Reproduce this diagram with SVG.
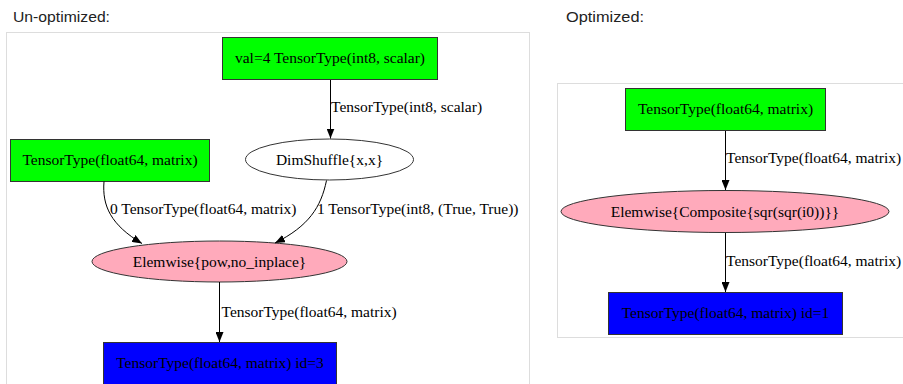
<svg xmlns="http://www.w3.org/2000/svg" width="903" height="384" viewBox="0 0 903 384">
  <defs>
    <marker id="arrow" viewBox="0 0 10 8" refX="10" refY="4" markerWidth="10" markerHeight="8" markerUnits="userSpaceOnUse" orient="auto">
      <path d="M0,0 L10,4 L0,8 Z" fill="#000"/>
    </marker>
    <style>
      .title { font-family: "Liberation Sans", Arial, sans-serif; font-size: 14px; fill: #222; }
      .panel { fill: #fff; stroke: #dddddd; stroke-width: 1; }
      .node { stroke: #333; stroke-width: 1; }
      .input { fill: #00ff00; }
      .output { fill: #0000ff; }
      .apply { fill: #ffaabb; }
      .plain { fill: #fff; }
      .lbl { font-family: "Liberation Serif", "Times New Roman", serif; font-size: 15.5px; fill: #000; }
      .mid { text-anchor: middle; }
      .edge { fill: none; stroke: #000; stroke-width: 1; marker-end: url(#arrow); }
    </style>
  </defs>

  <rect width="903" height="384" fill="#fff"/>

  <!-- headings -->
  <text class="title" x="13" y="22" textLength="97" lengthAdjust="spacingAndGlyphs">Un-optimized:</text>
  <text class="title" x="566" y="22" textLength="78" lengthAdjust="spacingAndGlyphs">Optimized:</text>

  <!-- panel frames -->
  <rect class="panel" x="6.5" y="32.5" width="523" height="360"/>
  <rect class="panel" x="557.5" y="83.5" width="360" height="254"/>

  <!-- un-optimized graph -->
  <g id="const-val4">
    <rect class="node input" x="222.5" y="37.5" width="215" height="42"/>
    <text class="lbl mid" x="330" y="63">val=4 TensorType(int8, scalar)</text>
  </g>
  <g id="input-matrix">
    <rect class="node input" x="10.5" y="139.5" width="199" height="42"/>
    <text class="lbl mid" x="110" y="165">TensorType(float64, matrix)</text>
  </g>
  <g id="dimshuffle">
    <ellipse class="node plain" cx="329.5" cy="159.5" rx="84" ry="20.5"/>
    <text class="lbl mid" x="329.5" y="164.5">DimShuffle{x,x}</text>
  </g>
  <g id="elemwise-pow">
    <ellipse class="node apply" cx="219.5" cy="261.5" rx="127.5" ry="20.5"/>
    <text class="lbl mid" x="219.5" y="266.5">Elemwise{pow,no_inplace}</text>
  </g>
  <g id="output-3">
    <rect class="node output" x="103.5" y="342.5" width="233" height="50"/>
    <text class="lbl mid" x="220" y="367.5">TensorType(float64, matrix) id=3</text>
  </g>

  <!-- optimized graph -->
  <g id="opt-input-matrix">
    <rect class="node input" x="625.5" y="88.5" width="200" height="42"/>
    <text class="lbl mid" x="725.5" y="114">TensorType(float64, matrix)</text>
  </g>
  <g id="opt-elemwise-composite">
    <ellipse class="node apply" cx="725" cy="211.5" rx="164" ry="21"/>
    <text class="lbl mid" x="725" y="216.5">Elemwise{Composite{sqr(sqr(i0))}}</text>
  </g>
  <g id="opt-output-1">
    <rect class="node output" x="608.5" y="292.5" width="234" height="42"/>
    <text class="lbl mid" x="725.5" y="318">TensorType(float64, matrix) id=1</text>
  </g>

  <!-- connectors -->
  <g id="edges">
    <path class="edge" d="M330.5,80 L330.5,138.5"/>
    <text class="lbl" x="331" y="112">TensorType(int8, scalar)</text>

    <path class="edge" d="M104,181.5 C102,206 111,225 142,243.5"/>
    <text class="lbl" x="110" y="214">0 TensorType(float64, matrix)</text>

    <path class="edge" d="M326.5,180.5 C321,207 309,226 275,243"/>
    <text class="lbl" x="317" y="214">1 TensorType(int8, (True, True))</text>

    <path class="edge" d="M219.5,282 L219.5,342"/>
    <text class="lbl" x="221.5" y="317">TensorType(float64, matrix)</text>

    <path class="edge" d="M725.5,131 L725.5,190"/>
    <text class="lbl" x="726" y="163">TensorType(float64, matrix)</text>

    <path class="edge" d="M725.5,233 L725.5,292"/>
    <text class="lbl" x="726" y="266">TensorType(float64, matrix)</text>
  </g>
</svg>
